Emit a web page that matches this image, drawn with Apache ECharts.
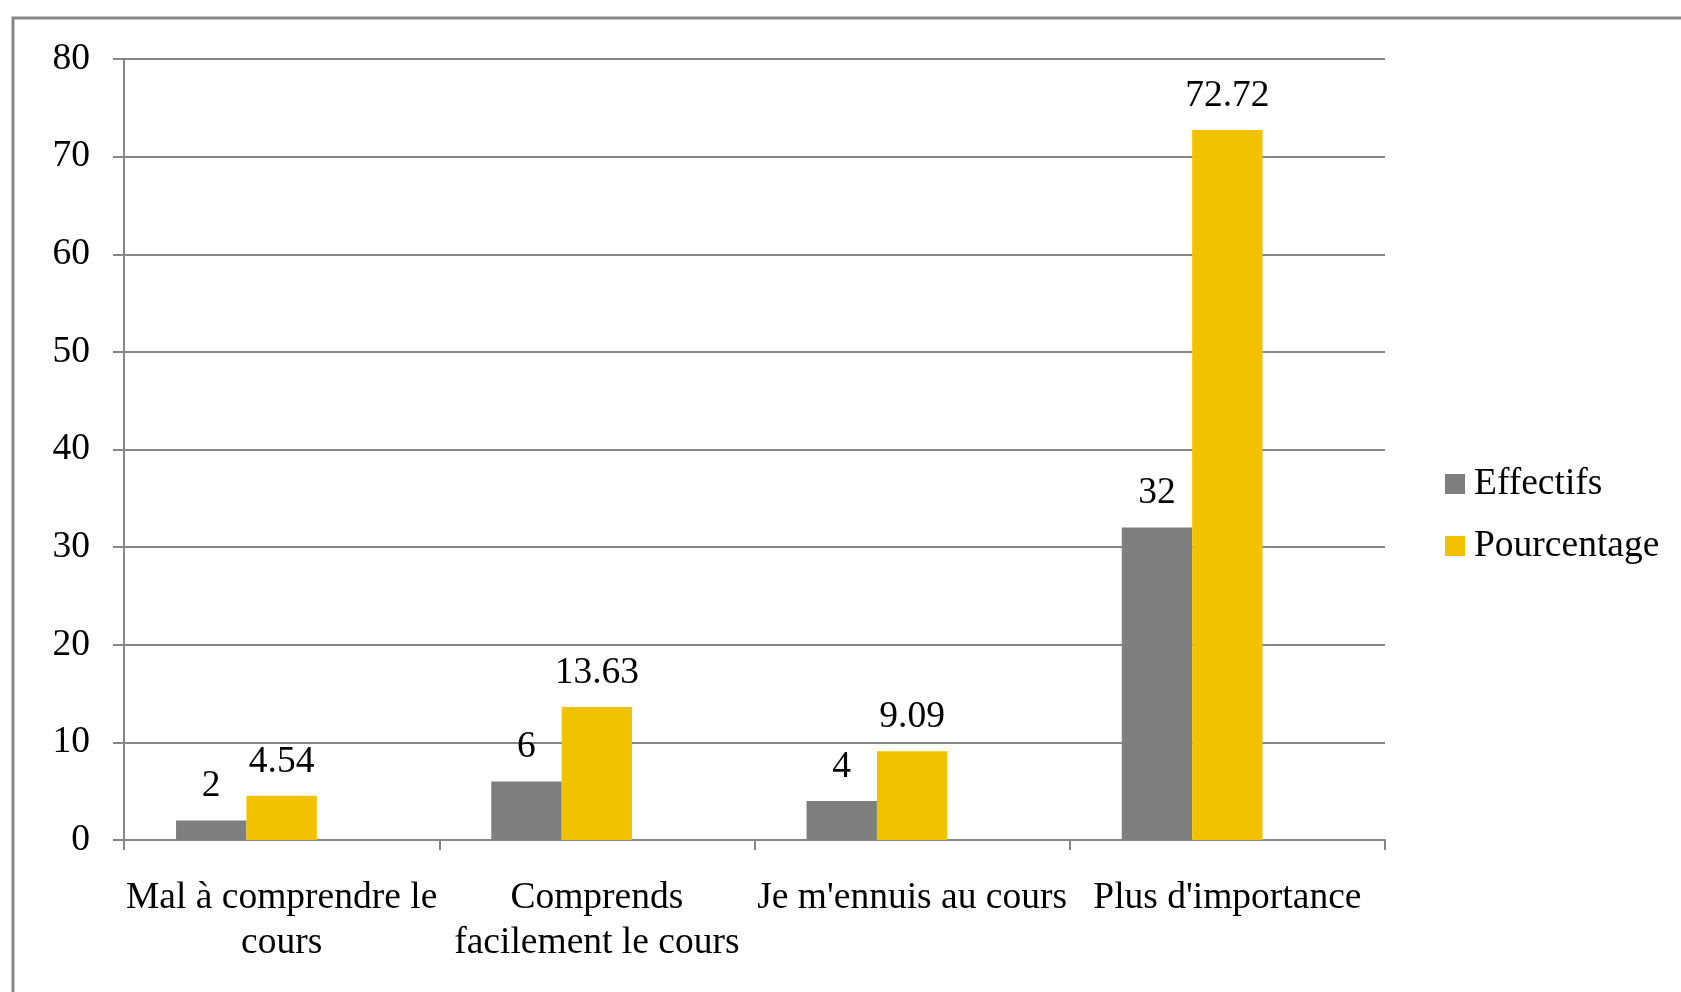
<!DOCTYPE html>
<html>
<head>
<meta charset="utf-8">
<script src="https://cdn.jsdelivr.net/npm/echarts@6/dist/echarts.min.js"></script>
<style>
  html, body { margin: 0; padding: 0; background: #fff; }
  #chart { width: 1681px; height: 992px; }
</style>
</head>
<body>
<div id="chart"></div>
<script>
// categories and values
var categories = ["Mal à comprendre le\ncours", "Comprends\nfacilement le cours", "Je m'ennuis au cours", "Plus d'importance"];
var effectifs = [2, 6, 4, 32];
var pourcentage = [4.54, 13.63, 9.09, 72.72];
var yTicks = [0, 80, 10]; // min, max, interval

var font = '"Liberation Serif", "DejaVu Serif", serif';
var gridColor = '#868686';

var myChart = echarts.init(document.getElementById('chart'));

var barLabel = {
  show: true,
  position: 'top',
  distance: 15,
  color: '#000',
  fontFamily: font,
  fontSize: 37.5
};

myChart.setOption({
  animation: false,
  textStyle: { fontFamily: font },
  // cadre gris autour du graphique
  graphic: [{
    type: 'rect',
    shape: { x: 13, y: 18, width: 1720, height: 1020 },
    style: { fill: 'none', stroke: '#878787', lineWidth: 3 },
    silent: true
  }],
  legend: {
    data: ['Effectifs', 'Pourcentage'],
    orient: 'vertical',
    left: 1440,
    top: 460,
    itemWidth: 20,
    itemHeight: 20,
    itemGap: 24,
    icon: 'rect',
    textStyle: { fontFamily: font, fontSize: 37.5, color: '#000', lineHeight: 38, padding: [0, 0, 0, 4] }
  },
  grid: {
    left: 124,
    right: 296,
    top: 59,
    bottom: 152,
    containLabel: false
  },
  xAxis: {
    type: 'category',
    data: categories,
    axisLine: { lineStyle: { color: gridColor, width: 2 } },
    axisTick: { show: true, length: 10, lineStyle: { color: gridColor, width: 2 } },
    axisLabel: {
      interval: 0,
      margin: 36,
      color: '#000',
      fontFamily: font,
      fontSize: 37.5,
      lineHeight: 45
    }
  },
  yAxis: {
    type: 'value',
    min: yTicks[0],
    max: yTicks[1],
    interval: yTicks[2],
    axisLine: { show: true, lineStyle: { color: gridColor, width: 2 } },
    axisTick: { show: true, length: 11, lineStyle: { color: gridColor, width: 2 } },
    splitLine: { lineStyle: { color: gridColor, width: 2 } },
    axisLabel: {
      margin: 34,
      color: '#000',
      fontFamily: font,
      fontSize: 37.5
    }
  },
  series: [
    {
      name: 'Effectifs',
      type: 'bar',
      data: effectifs,
      barGap: '0%',
      barCategoryGap: '33%',
      itemStyle: { color: '#7f7f7f' },
      label: barLabel
    },
    {
      name: 'Pourcentage',
      type: 'bar',
      data: pourcentage,
      barGap: '0%',
      barCategoryGap: '33%',
      itemStyle: { color: '#f2c200' },
      label: barLabel
    },
    {
      // série vide (place réservée comme dans le graphique Excel)
      name: 'vide',
      type: 'bar',
      data: ['-', '-', '-', '-'],
      barGap: '0%',
      barCategoryGap: '33%'
    }
  ]
});

window.addEventListener('resize', function () {
  myChart.resize();
});
</script>
</body>
</html>
